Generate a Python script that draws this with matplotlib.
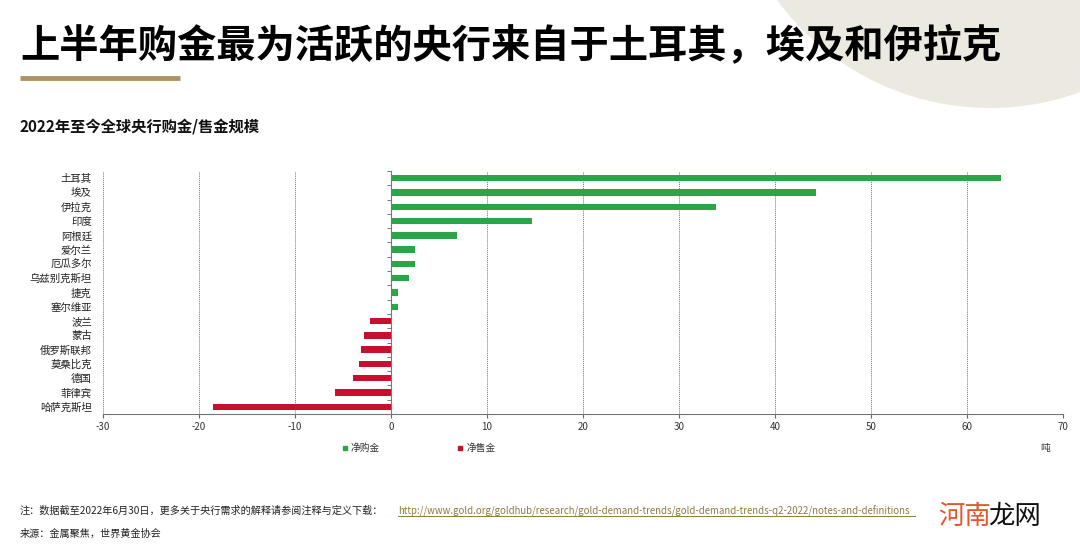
import matplotlib
matplotlib.use("Agg")
import matplotlib.pyplot as plt
import numpy as np
from matplotlib.patches import Circle
from matplotlib.lines import Line2D

plt.rcParams['font.family'] = ['Noto Sans CJK SC', 'DejaVu Sans']

countries = ["土耳其", "埃及", "伊拉克", "印度", "阿根廷", "爱尔兰", "厄瓜多尔", "乌兹别克斯坦",
             "捷克", "塞尔维亚", "波兰", "蒙古", "俄罗斯联邦", "莫桑比克", "德国", "菲律宾", "哈萨克斯坦"]
values = [63.5, 44.3, 33.9, 14.7, 6.9, 2.5, 2.5, 1.9, 0.7, 0.7,
          -2.2, -2.8, -3.1, -3.3, -4.0, -5.8, -18.5]
xticks = [-30, -20, -10, 0, 10, 20, 30, 40, 50, 60, 70]
series_names = ["净购金", "净售金"]

GREEN = "#2aa548"
RED = "#c8102e"

W, H = 1080, 550
fig = plt.figure(figsize=(W / 100, H / 100), dpi=100)

# background overlay in pixel coords
bg = fig.add_axes([0, 0, 1, 1], zorder=0)
bg.set_xlim(0, W)
bg.set_ylim(H, 0)
bg.axis("off")
bg.add_patch(Circle((990, -156), 264, color="#ece9e0", lw=0))
bg.text(20, 46, "上半年购金最为活跃的央行来自于土耳其，埃及和伊拉克", fontsize=28.3,
        fontweight="black", va="center", ha="left", color="#000000")
bg.plot([20, 180], [78, 78], color="#ab9566", lw=3.5, solid_capstyle="butt")
bg.text(20, 127, "2022年至今全球央行购金/售金规模", fontsize=11, fontweight="bold",
        va="center", ha="left", color="#111111")

note = "注：数据截至2022年6月30日，更多关于央行需求的解释请参阅注释与定义下载："
bg.text(20, 511, note, fontsize=7.3, va="center", ha="left", color="#222222")
url = "http://www.gold.org/goldhub/research/gold-demand-trends/gold-demand-trends-q2-2022/notes-and-definitions"
bg.text(398, 511, url, fontsize=6.95, va="center", ha="left", color="#8c7a3e")
bg.plot([398, 915], [516, 516], color="#8c7a3e", lw=0.7)
bg.text(20, 534, "来源：金属聚焦，世界黄金协会", fontsize=7.3, va="center", ha="left", color="#222222")
bg.text(1045, 448, "吨", fontsize=7, va="center", ha="center", color="#333333")

# watermark
bg.text(938, 516, "河南", fontsize=19, va="center", ha="left", color="#e4572e")
bg.text(988, 516, "龙网", fontsize=19, va="center", ha="left", color="#111111")

# main chart
left, right, top, bottom = 103, 1063, 171, 414
ax = fig.add_axes([left / W, 1 - bottom / H, (right - left) / W, (bottom - top) / H], zorder=2)
ax.patch.set_alpha(0)

y = np.arange(len(countries))
vals = np.array(values)
pos = vals > 0
ax.barh(y[pos], vals[pos], height=0.45, color=GREEN, label=series_names[0], zorder=3)
ax.barh(y[~pos], vals[~pos], height=0.45, color=RED, label=series_names[1], zorder=3)

ax.set_ylim(len(countries) - 0.5, -0.5)
ax.set_xlim(xticks[0], xticks[-1])
ax.set_xticks(xticks)
ax.set_xticklabels([str(t) for t in xticks])
ax.set_yticks(y)
ax.set_yticklabels(countries)

ax.tick_params(axis="y", length=0, labelsize=7.5, pad=8, labelcolor="#222222")
ax.tick_params(axis="x", length=3, color="#666666", labelsize=7, pad=3, labelcolor="#333333")

for t in xticks:
    if t not in (0, xticks[-1]):
        ax.axvline(t, color="#777777", lw=0.7, ls=(0, (1, 1)), zorder=1)

for s in ["top", "right", "left"]:
    ax.spines[s].set_visible(False)
ax.spines["bottom"].set_color("#777777")
ax.spines["bottom"].set_linewidth(0.8)

# zero axis with boundary ticks
sec = ax.secondary_yaxis((0 - xticks[0]) / (xticks[-1] - xticks[0]))
sec.set_yticks(np.arange(-0.5, len(countries), 1.0))
sec.set_yticklabels([])
sec.tick_params(length=3, direction="out", color="#777777", width=0.7)
sec.spines["left"].set_color("#777777")
sec.spines["left"].set_linewidth(0.8)

handles = [Line2D([], [], marker="s", ls="", color=GREEN, markersize=3.5),
           Line2D([], [], marker="s", ls="", color=RED, markersize=3.5)]
leg = fig.legend(handles, series_names, loc="center left", bbox_to_anchor=(333 / W, 1 - 448 / H),
                 ncol=2, frameon=False, fontsize=7, handlelength=0.6, handletextpad=0.3,
                 columnspacing=8.0)
for t in leg.get_texts():
    t.set_color("#333333")

fig.savefig("out.png", dpi=100)
